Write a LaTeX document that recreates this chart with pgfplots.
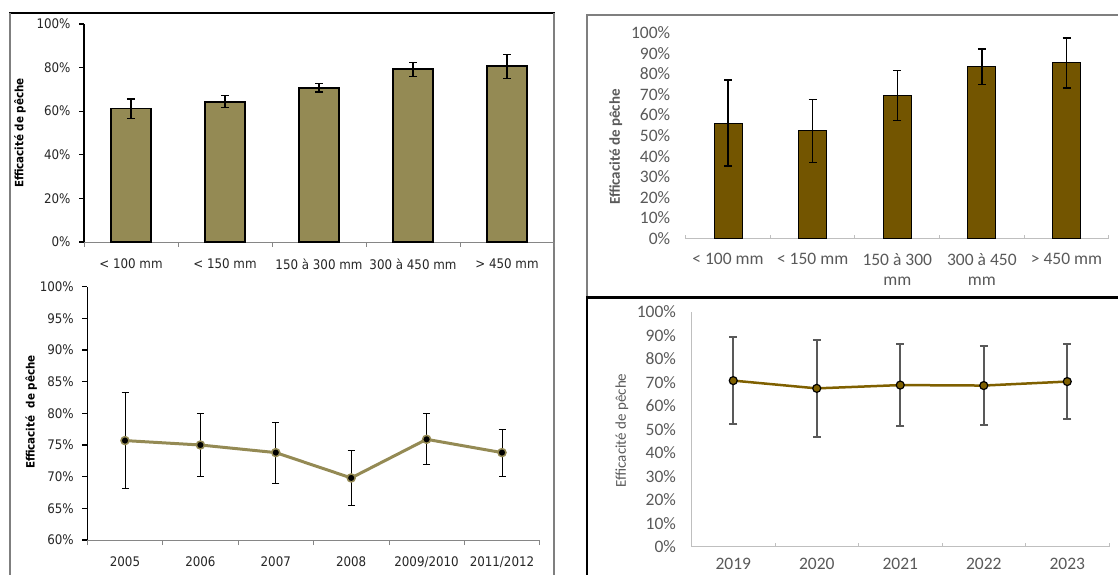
\documentclass[border=0pt]{standalone}
\usepackage{fontspec}
\setmainfont{Carlito}
\newfontfamily\tah{DejaVu Sans Condensed}
\newfontfamily\calfont{Carlito}
\usepackage{pgfplots}
\pgfplotsset{compat=1.18}
\definecolor{oliv}{HTML}{948A54}
\definecolor{brownbar}{HTML}{735500}
\definecolor{brownline}{HTML}{7F6000}
\definecolor{txtgrey}{HTML}{595959}
\definecolor{axgrey}{HTML}{BFBFBF}
\definecolor{lftgrey}{HTML}{868686}
\definecolor{tkdark}{HTML}{262626}
\definecolor{frgrey}{HTML}{7F7F7F}
\begin{document}
\begin{tikzpicture}
\useasboundingbox (0,0) rectangle (1118pt,575pt);
% frames
\draw[black, line width=2pt] (9pt,562pt) -- (555pt,562pt);
\draw[frgrey, line width=1.3pt] (10pt,562pt) -- (10pt,-5pt);
\draw[frgrey, line width=1.3pt] (554pt,562pt) -- (554pt,-5pt);
\draw[frgrey, line width=2pt] (1125pt,560pt) -- (587pt,560pt) -- (587pt,278.5pt);
\draw[black, line width=2.5pt] (586pt,277.5pt) -- (1125pt,277.5pt);
\draw[black, line width=2pt] (587pt,277.5pt) -- (587pt,-5pt);

% ---------- top left ----------
\begin{axis}[at={(84pt,333pt)}, anchor=south west, scale only axis,
  width=470pt, height=218pt,
  xmin=-0.5, xmax=4.5, ymin=0, ymax=100,
  axis x line*=bottom, axis y line*=left,
  ytick={0,20,...,100}, yticklabels={0\%,20\%,40\%,60\%,80\%,100\%},
  xtick={0,...,4},
  xticklabels={{< 100 mm},{< 150 mm},{150 à 300 mm},{300 à 450 mm},{> 450 mm}},
  minor xtick={-0.5,0.5,...,4.5},
  tick align=outside, major tick length=5pt, minor tick length=5pt,
  major x tick style={draw=none}, minor x tick style={draw=lftgrey, line width=0.8pt},
  y axis line style={black, line width=1.6pt}, ytick style={black, line width=1.3pt},
  x axis line style={draw=lftgrey, line width=0.8pt},
  tick label style={font=\tah\fontsize{13.2}{15}\selectfont, text=tkdark},
  yticklabel style={xshift=-5pt}, xticklabel style={yshift=-8pt},
  ylabel={Efficacité de pêche},
  ylabel style={font=\tah\bfseries\fontsize{11.5}{13}\selectfont, at={(axis description cs:-0.136,0.5)}, anchor=center},
  clip=false]
\addplot[ybar, bar width=40pt, fill=oliv, draw=black, line width=1.8pt,
  error bars/.cd, y dir=both, y explicit,
  error bar style={black, line width=1.1pt},
  error mark options={rotate=90, mark size=4pt, black, line width=1.1pt}]
  coordinates {(0,61.2) +- (0,4.4) (1,64.3) +- (0,2.7) (2,70.8) +- (0,2.0) (3,79.2) +- (0,3.2) (4,80.6) +- (0,5.4)};
\end{axis}

% ---------- bottom left ----------
\begin{axis}[at={(87.3pt,35pt)}, anchor=south west, scale only axis,
  width=452.4pt, height=253.3pt,
  xmin=-0.5, xmax=5.5, ymin=60, ymax=100,
  axis x line*=bottom, axis y line*=left,
  ytick={60,65,...,100}, yticklabels={60\%,65\%,70\%,75\%,80\%,85\%,90\%,95\%,100\%},
  xtick={0,...,5},
  xticklabels={2005,2006,2007,2008,2009/2010,2011/2012},
  minor xtick={-0.5,0.5,...,5.5},
  tick align=outside, major tick length=5pt, minor tick length=5pt,
  major x tick style={draw=none}, minor x tick style={draw=lftgrey, line width=0.8pt},
  y axis line style={black, line width=1.6pt}, ytick style={black, line width=1.3pt},
  x axis line style={draw=lftgrey, line width=0.8pt},
  tick label style={font=\tah\fontsize{13.2}{15}\selectfont, text=tkdark},
  yticklabel style={xshift=-5pt}, xticklabel style={yshift=-8pt},
  ylabel={Efficacité~ de pêche},
  ylabel style={font=\tah\bfseries\fontsize{11.5}{13}\selectfont, at={(axis description cs:-0.124,0.505)}, anchor=center},
  clip=false]
\addplot[color=oliv, line width=3pt, mark=*,
  mark options={fill=black, draw=oliv, line width=1.5pt, mark size=4pt},
  error bars/.cd, y dir=both, y explicit,
  error bar style={black, line width=1pt},
  error mark options={rotate=90, mark size=3.5pt, black, line width=1pt}]
  coordinates {(0,75.7) +- (0,7.6) (1,75.0) +- (0,5.0) (2,73.8) +- (0,4.8) (3,69.8) +- (0,4.3) (4,75.9) +- (0,4.0) (5,73.8) +- (0,3.7)};
\end{axis}

% ---------- top right ----------
\begin{axis}[at={(685.7pt,336.3pt)}, anchor=south west, scale only axis,
  width=423.1pt, height=206pt,
  xmin=-0.5, xmax=4.5, ymin=0, ymax=100,
  axis x line*=bottom, axis y line*=left,
  ytick={0,10,...,100}, yticklabels={0\%,10\%,20\%,30\%,40\%,50\%,60\%,70\%,80\%,90\%,100\%},
  xtick={0,...,4},
  xticklabels={{< 100 mm},{< 150 mm},{150 à 300\\mm},{300 à 450\\mm},{> 450 mm}},
  minor xtick={-0.5,0.5,...,4.5},
  tick align=inside, minor tick length=4pt,
  major x tick style={draw=none}, minor x tick style={draw=axgrey, line width=1pt},
  y axis line style={draw=none}, ytick style={draw=none},
  x axis line style={draw=axgrey, line width=1pt},
  tick label style={font=\calfont\fontsize{17.5}{20}\selectfont, text=txtgrey},
  yticklabel style={xshift=-12pt},
  xticklabel style={align=center, yshift=-11pt},
  ylabel={Efficacité de pêche},
  ylabel style={font=\calfont\bfseries\fontsize{15}{17}\selectfont, text=txtgrey, at={(axis description cs:-0.165,0.445)}, anchor=center},
  clip=false]
\addplot[ybar, bar width=28pt, fill=brownbar, draw=black, line width=1pt,
  error bars/.cd, y dir=both, y explicit,
  error bar style={black, line width=1.5pt},
  error mark options={rotate=90, mark size=4pt, black, line width=1.5pt}]
  coordinates {(0,56.1) +- (0,20.9) (1,52.3) +- (0,15.3) (2,69.5) +- (0,12.2) (3,83.5) +- (0,8.7) (4,85.3) +- (0,12.2)};
\end{axis}

% ---------- bottom right ----------
\begin{axis}[at={(691.5pt,28pt)}, anchor=south west, scale only axis,
  width=417.5pt, height=235pt,
  xmin=-0.5, xmax=4.5, ymin=0, ymax=100,
  axis x line*=bottom, axis y line*=left,
  ytick={0,10,...,100}, yticklabels={0\%,10\%,20\%,30\%,40\%,50\%,60\%,70\%,80\%,90\%,100\%},
  xtick={0,...,4},
  xticklabels={2019,2020,2021,2022,2023},
  minor xtick={-0.5,0.5,...,4.5},
  tick align=inside, minor tick length=4pt,
  major x tick style={draw=none}, minor x tick style={draw=axgrey, line width=1pt},
  y axis line style={draw=axgrey, line width=1pt}, ytick style={draw=none},
  x axis line style={draw=axgrey, line width=1pt},
  tick label style={font=\calfont\fontsize{17.5}{20}\selectfont, text=txtgrey},
  yticklabel style={xshift=-12pt},
  xticklabel style={yshift=-8pt},
  ylabel={Efficacité de pêche},
  ylabel style={font=\calfont\fontsize{15}{17}\selectfont, text=txtgrey, at={(axis description cs:-0.167,0.496)}, anchor=center},
  clip=false]
\addplot[color=brownline, line width=2.5pt, mark=*,
  mark options={fill=brownline, draw=black, line width=1.2pt, mark size=4pt},
  error bars/.cd, y dir=both, y explicit,
  error bar style={txtgrey, line width=1.8pt},
  error mark options={rotate=90, mark size=4pt, txtgrey, line width=1.8pt}]
  coordinates {(0,70.8) +- (0,18.4) (1,67.5) +- (0,20.7) (2,68.9) +- (0,17.4) (3,68.7) +- (0,16.7) (4,70.4) +- (0,16.0)};
\end{axis}
\end{tikzpicture}
\end{document}
